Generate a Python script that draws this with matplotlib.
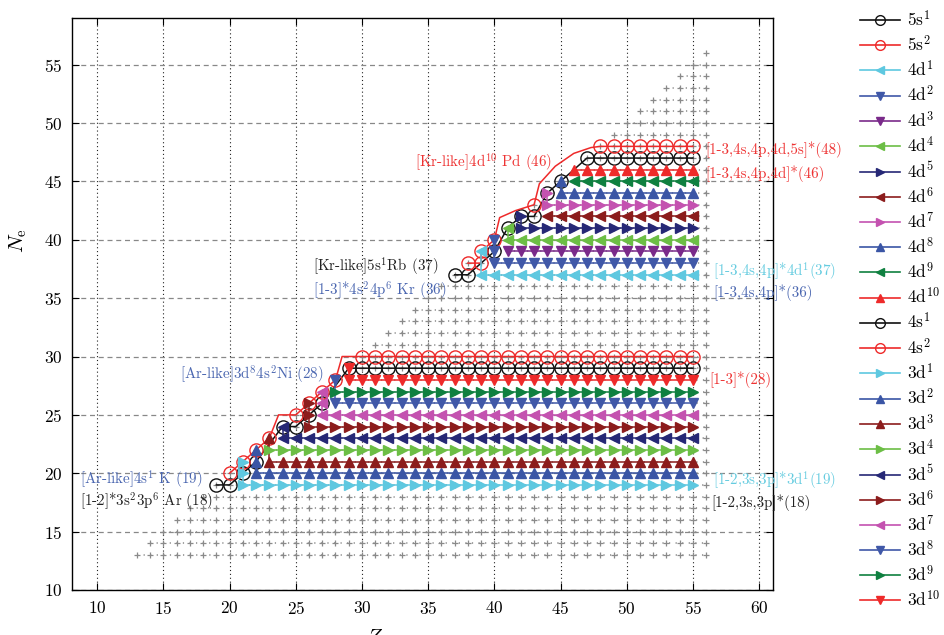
import numpy as np
import matplotlib
matplotlib.use("Agg")
import matplotlib.pyplot as plt
from matplotlib.lines import Line2D

plt.rcParams['font.family'] = 'cmr10'
plt.rcParams['mathtext.fontset'] = 'cm'
plt.rcParams['axes.formatter.use_mathtext'] = True
plt.rcParams['axes.unicode_minus'] = False

# last nuclear charge with a configuration marker
Z_LAST = 55
# gray background: every ion with GRID_NE_MIN <= Ne <= Z <= GRID_Z_MAX
GRID_NE_MIN = 13
GRID_Z_MAX = 56

# series in legend order
labels = ['5s$^1$', '5s$^2$',
          '4d$^1$', '4d$^2$', '4d$^3$', '4d$^4$', '4d$^5$',
          '4d$^6$', '4d$^7$', '4d$^8$', '4d$^9$', '4d$^{10}$',
          '4s$^1$', '4s$^2$',
          '3d$^1$', '3d$^2$', '3d$^3$', '3d$^4$', '3d$^5$',
          '3d$^6$', '3d$^7$', '3d$^8$', '3d$^9$', '3d$^{10}$']
colors = ['#111111', '#ee2a2a',
          '#5ec8e0', '#4058a8', '#7a2a8a', '#6cbe45', '#262876',
          '#8c1c1c', '#c452b0', '#3a55a5', '#0f8040', '#ee2a2a',
          '#111111', '#ee2a2a',
          '#5ec8e0', '#3a55a5', '#8c1c1c', '#6cbe45', '#262876',
          '#8c1c1c', '#c452b0', '#4058a8', '#0f8040', '#ee2a2a']
markers = ['o', 'o',
           '<', 'v', 'v', '<', '>', '<', '>', '^', '<', '^',
           'o', 'o',
           '>', '^', '^', '>', '<', '>', '<', 'v', '>', 'v']

# (Z, Ne) points near the neutral diagonal, in drawing order
diag_pts = [
    [(37, 37), (38, 37), (40, 39), (41, 41), (42, 42), (43, 42), (44, 44), (45, 45)],
    [(38, 38), (39, 38), (39, 39), (40, 40), (43, 43)],
    [(39, 39)],
    [(40, 40), (40, 39)],
    [],
    [(41, 41)],
    [(42, 42)],
    [],
    [(44, 44)],
    [(45, 45)],
    [],
    [],
    [(19, 19), (20, 19), (21, 20), (22, 21), (24, 24), (25, 24), (26, 25), (27, 26)],
    [(20, 20), (21, 21), (22, 22), (23, 23), (25, 25), (26, 26), (27, 27), (28, 28)],
    [(21, 21), (21, 20)],
    [(22, 22), (22, 21)],
    [(23, 23)],
    [],
    [(24, 24)],
    [(26, 26), (26, 25)],
    [(27, 27), (27, 26)],
    [(28, 28)],
    [],
    [(29, 29)],
]
# each series then runs along one Ne row from row_z0 up to Z_LAST
row_ne = [47, 48, 37, 38, 39, 40, 41, 42, 43, 44, 45, 46,
          29, 30, 19, 20, 21, 22, 23, 24, 25, 26, 27, 28]
row_z0 = [47, 48, 39, 40, 41, 41, 42, 44, 44, 45, 46, 46,
          29, 30, 21, 22, 23, 23, 24, 26, 27, 28, 28, 29]

# red s^2 guide lines as drawn in the figure
s2_lo_z = [20, 21, 22, 23, 23.7, 25, 26, 27, 28, 28.5, 30, 55]
s2_lo_ne = [20, 21, 22, 23, 25, 25, 26, 27, 28, 30, 30, 30]
s2_hi_z = [38, 39, 39, 40, 40.4, 41.6, 43, 43.4, 44.6, 46, 47.3, 48, 55]
s2_hi_ne = [38, 38, 39, 40, 41.9, 42.5, 43, 44.8, 46.3, 47.4, 47.9, 48, 48]
guide_paths = {'5s$^2$': (s2_hi_z, s2_hi_ne), '4s$^2$': (s2_lo_z, s2_lo_ne)}

# annotations: text, Z, Ne, colour
notes = [
    ('[Ar-like]4s$^1$ K (19)', 8.7, 19.4, '#4a66b0'),
    ('[1-2]*3s$^2$3p$^6$ Ar (18)', 8.7, 17.5, '#222222'),
    ('[Ar-like]3d$^8$4s$^2$Ni (28)', 16.25, 28.45, '#4a66b0'),
    ('[Kr-like]5s$^1$Rb (37)', 26.3, 37.7, '#222222'),
    ('[1-3]*4s$^2$4p$^6$ Kr (36)', 26.3, 35.65, '#4a66b0'),
    ('[Kr-like]4d$^{10}$ Pd (46)', 34.0, 46.6, '#ee3333'),
    ('[1-3,4s,4p,4d,5s]*(48)', 55.95, 47.7, '#ee3333'),
    ('[1-3,4s,4p,4d]*(46)', 55.95, 45.65, '#ee3333'),
    ('[1-3,4s,4p]*4d$^1$(37)', 56.55, 37.25, '#66cce0'),
    ('[1-3,4s,4p]*(36)', 56.55, 35.45, '#4a66b0'),
    ('[1-3]*(28)', 56.25, 28.05, '#ee3333'),
    ('[1-2,3s,3p]*3d$^1$(19)', 56.5, 19.3, '#66cce0'),
    ('[1-2,3s,3p]*(18)', 56.35, 17.5, '#222222'),
]

fig = plt.figure(figsize=(9.44, 6.35), dpi=100)
ax = fig.add_axes([0.0763, 0.0709, 0.7426, 0.9008])

# gray crosses for all ions, joined by faint dots
for ne in range(GRID_NE_MIN, GRID_Z_MAX + 1):
    zz = np.arange(ne, GRID_Z_MAX + 1)
    ax.plot(zz, np.full(zz.size, ne), color='#8a8a8a', lw=1.1, ls=(0, (0.8, 3.5)),
            marker='+', ms=5, mew=0.9, zorder=1)

handles = []
for i, lab in enumerate(labels):
    rz = list(range(row_z0[i], Z_LAST + 1))
    z = [p[0] for p in diag_pts[i]] + rz
    n = [p[1] for p in diag_pts[i]] + [row_ne[i]] * len(rz)
    circle = markers[i] == 'o'
    ms = 9.5 if circle else 6.5
    mfc = 'none' if circle else colors[i]
    zo = 3 + i * 0.01
    if lab in guide_paths:
        gz, gn = guide_paths[lab]
        ax.plot(gz, gn, color=colors[i], lw=1.1, zorder=zo)
        ax.plot(z, n, ls='none', marker='o', ms=ms, mfc='none',
                mec=colors[i], mew=1.0, zorder=zo)
    else:
        ax.plot(z, n, color=colors[i], lw=1.1, marker=markers[i], ms=ms,
                mfc=mfc, mec=colors[i], mew=1.0, zorder=zo)
    handles.append(Line2D([], [], color=colors[i], lw=1.2, marker=markers[i],
                          ms=7 if circle else 5.5, mfc='none' if circle else colors[i],
                          mec=colors[i], mew=1.0, label=lab))

for txt, x, y, c in notes:
    ax.text(x, y, txt, color=c, fontsize=10.8, ha='left', va='center', zorder=6)

ax.set_xlim(8.1, 61.05)
ax.set_ylim(10, 59)
ax.set_xticks(range(10, 61, 5))
ax.set_yticks(range(10, 56, 5))
ax.xaxis.grid(True, color='#222222', ls=(0, (1, 2.5)), lw=0.8)
ax.yaxis.grid(True, color='#888888', ls=(0, (4, 3)), lw=0.9)
ax.set_axisbelow(True)
ax.tick_params(direction='in', top=True, right=True, length=5, width=0.8,
               labelsize=12.5, pad=7)
for sp in ax.spines.values():
    sp.set_linewidth(1.0)

ax.set_xlabel('$Z$', fontsize=15)
ax.xaxis.set_label_coords(0.432, -0.068)
ax.set_ylabel('$N_{\\mathrm{e}}$', fontsize=15)
ax.yaxis.set_label_coords(-0.062, 0.61)

fig.legend(handles=handles, loc='upper left', bbox_to_anchor=(0.9015, 1.0),
           frameon=False, fontsize=12.5, handlelength=2.3, handletextpad=0.4,
           borderpad=0, labelspacing=0.29)

fig.savefig('out.png', dpi=100)
